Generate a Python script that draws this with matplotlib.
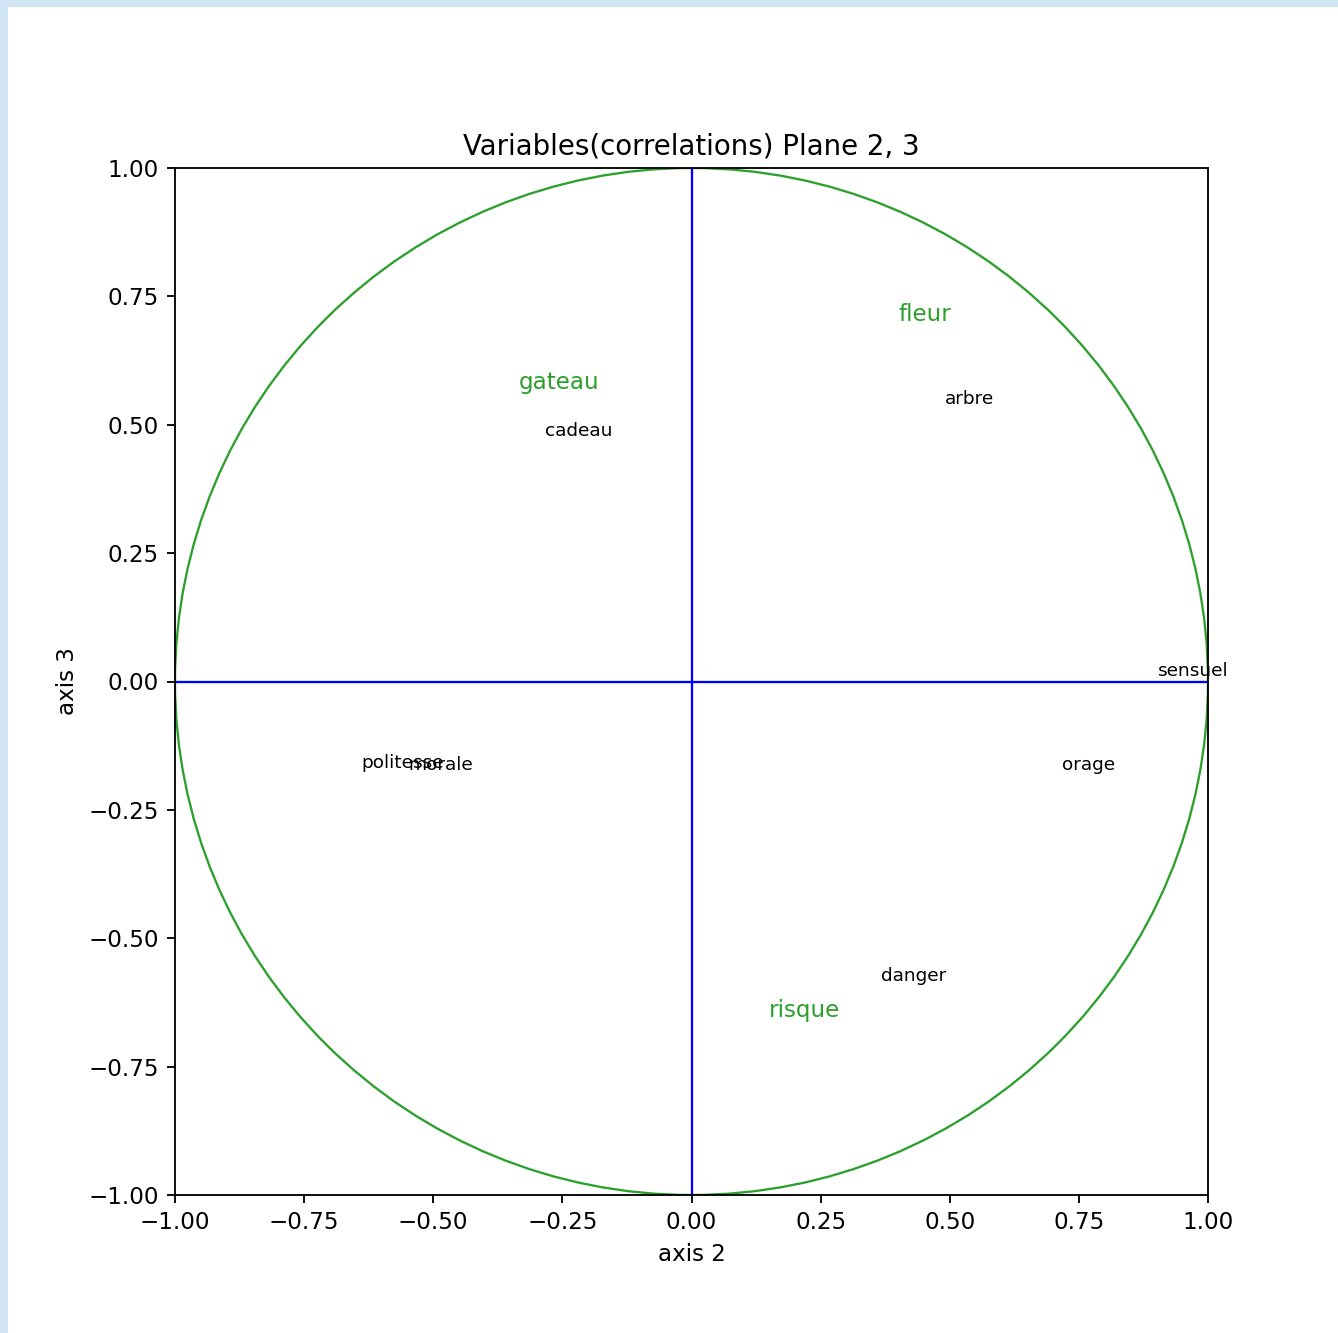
import numpy as np
import matplotlib
matplotlib.use('Agg')
import matplotlib.pyplot as plt
from matplotlib.patches import Circle, Rectangle

# active variables (correlations with axes 2 and 3)
var_names = ['sensuel', 'orage', 'politesse', 'morale', 'cadeau', 'arbre', 'danger']
var_x = [0.971, 0.768, -0.559, -0.485, -0.218, 0.539, 0.431]
var_y = [0.020, -0.163, -0.159, -0.163, 0.488, 0.551, -0.574]

# supplementary variables
sup_names = ['gateau', 'fleur', 'risque']
sup_x = [-0.257, 0.452, 0.218]
sup_y = [0.583, 0.714, -0.640]

W, H = 1338, 1333
DPI = 166
FRAME = '#d0e6f4'

fig = plt.figure(figsize=(W / DPI, H / DPI), dpi=DPI, facecolor='white')
# light blue frame of the screenshot, top and left edges
fig.patches.append(Rectangle((0, 1 - 7 / H), 1, 7 / H, transform=fig.transFigure,
                             facecolor=FRAME, edgecolor='none'))
fig.patches.append(Rectangle((0, 0), 8 / W, 1, transform=fig.transFigure,
                             facecolor=FRAME, edgecolor='none'))

ax = fig.add_axes([175 / W, (H - 1195) / H, 1033 / W, 1027 / H])

for name, x, y in zip(var_names, var_x, var_y):
    ax.annotate(name, (x, y), ha='center', va='center', fontsize=8)

for name, x, y in zip(sup_names, sup_x, sup_y):
    ax.annotate(name, (x, y), ha='center', va='center', fontsize=10, color='#2ca02c')

ax.plot([-1, 1], [0, 0], color='blue', linewidth=1)
ax.plot([0, 0], [-1, 1], color='blue', linewidth=1)

ax.add_artist(Circle((0, 0), 1, color='#2ca02c', fill=False, linewidth=1))

ticks = np.arange(-1, 1.01, 0.25)
ax.set_xlim(-1, 1)
ax.set_ylim(-1, 1)
ax.set_xticks(ticks)
ax.set_yticks(ticks)
ax.set_xlabel('axis 2')
ax.set_ylabel('axis 3')
ax.set_title('Variables(correlations) Plane 2, 3')

fig.savefig('out.png', dpi=DPI)
